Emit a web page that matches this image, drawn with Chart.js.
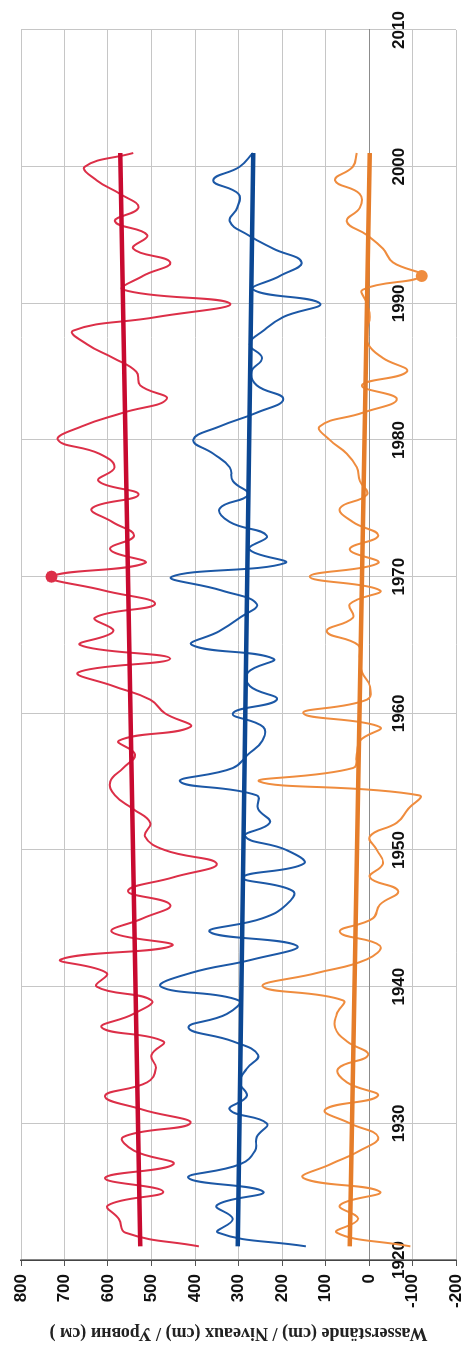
<!DOCTYPE html>
<html>
<head>
<meta charset="utf-8">
<script src="https://cdn.jsdelivr.net/npm/chart.js@4"></script>
<style>
html, body { margin: 0; padding: 0; background: #fff; overflow: hidden; }
/* chart is drawn landscape, then turned a quarter left like the print */
#wrap { position: absolute; left: 0; top: 0; width: 1346px; height: 469px;
        transform-origin: 0 0; transform: translateY(1346px) rotate(-90deg); }
</style>
</head>
<body>
<div id="wrap"><canvas id="levels" width="1346" height="469"></canvas></div>
<script>
const years = [
  1921, 1922, 1923, 1924, 1925, 1926, 1927, 1928, 1929, 1930,
  1931, 1932, 1933, 1934, 1935, 1936, 1937, 1938, 1939, 1940,
  1941, 1942, 1943, 1944, 1945, 1946, 1947, 1948, 1949, 1950,
  1951, 1952, 1953, 1954, 1955, 1956, 1957, 1958, 1959, 1960,
  1961, 1962, 1963, 1964, 1965, 1966, 1967, 1968, 1969, 1970,
  1971, 1972, 1973, 1974, 1975, 1976, 1977, 1978, 1979, 1980,
  1981, 1982, 1983, 1984, 1985, 1986, 1987, 1988, 1989, 1990,
  1991, 1992, 1993, 1994, 1995, 1996, 1997, 1998, 1999, 2000,
  2001
];
const redLevels = [
  391, 560, 575, 600, 473, 607, 450, 540, 565, 411,
  520, 607, 510, 490, 500, 473, 614, 542, 500, 626,
  603, 708, 453, 591, 520, 457, 554, 450, 350, 470,
  515, 503, 542, 584, 595, 565, 538, 575, 411, 469,
  503, 588, 668, 457, 664, 588, 630, 492, 611, 730,
  515, 595, 540, 590, 637, 530, 622, 585, 620, 715,
  660, 565, 465, 526, 535, 588, 648, 680, 488, 320,
  565, 520, 457, 542, 510, 584, 530, 572, 626, 653,
  542
];
const blueLevels = [
  145, 347, 313, 350, 243, 415, 297, 262, 258, 235,
  320, 281, 297, 281, 255, 313, 415, 327, 300, 478,
  410, 266, 166, 366, 245, 190, 175, 290, 150, 190,
  285, 228, 255, 258, 434, 313, 278, 245, 243, 313,
  212, 274, 278, 220, 407, 345, 297, 258, 340, 453,
  193, 275, 235, 320, 343, 278, 313, 320, 358, 404,
  343, 258, 197, 258, 270, 246, 274, 243, 197, 113,
  266, 205, 155, 220, 278, 320, 303, 300, 358, 297,
  267
];
const orangeLevels = [
  -95, 74, 25, 67, -25, 151, 89, 21, -21, 44,
  101, -20, 51, 71, 2, 51, 78, 74, 60, 244,
  120, 5, -25, 67, -9, -25, -67, -2, -32, -18,
  -2, -64, -90, -115, 251, 37, 28, 21, -25, 151,
  5, -2, 16, 21, 25, 97, 37, 44, -25, 136,
  -21, 44, -21, 37, 67, 5, 21, 28, 51, 90,
  113, 14, -64, 16, -87, -32, 2, 5, -2, 5,
  14, -121, -55, -32, 5, 51, 21, 21, 78, 37,
  28
];
// straight trend lines, first and last year
const trendYears = [1921, 2001];
const redTrend = [526, 572];
const blueTrend = [302, 266];
const orangeTrend = [44, -2];

const axisTitle = "Wasserstände (cm) / Niveaux (cm) / Уровни (см )";

function series(xs, ys) {
  return ys.map((v, i) => ({ x: xs[i], y: v }));
}

const maxRed = redLevels.indexOf(Math.max(...redLevels));
const minOrange = orangeLevels.indexOf(Math.min(...orangeLevels));

function lineSet(values, color, markIndex) {
  return {
    data: series(years, values),
    borderColor: color,
    backgroundColor: color,
    borderWidth: 2,
    tension: 0.45,
    pointRadius: ctx => (ctx.dataIndex === markIndex ? 6 : 0),
    pointBackgroundColor: color,
    pointBorderWidth: 0,
    order: 2
  };
}
function trendSet(values, color) {
  return {
    data: series(trendYears, values),
    borderColor: color,
    borderWidth: 4.5,
    pointRadius: 0,
    tension: 0,
    order: 1
  };
}

// keep label overhang from shrinking the plot box
function noOverhang(s) {
  s.paddingLeft = 0;
  s.paddingRight = 0;
  s.paddingTop = 0;
  s.paddingBottom = 0;
}

const tickFont = { family: '"Liberation Sans Narrow", "Liberation Sans", sans-serif', size: 17, weight: 'bold' };

new Chart(document.getElementById("levels"), {
  type: "line",
  data: {
    datasets: [
      lineSet(redLevels, "#dc2f48", maxRed),
      lineSet(blueLevels, "#1c58a6", -1),
      lineSet(orangeLevels, "#ef8c3e", minOrange),
      trendSet(redTrend, "#c80a30"),
      trendSet(blueTrend, "#0b4793"),
      trendSet(orangeTrend, "#e57d2a")
    ]
  },
  options: {
    responsive: false,
    animation: false,
    devicePixelRatio: 1,
    layout: { padding: { left: 0, right: 30, top: 21, bottom: 13 } },
    plugins: { legend: { display: false }, tooltip: { enabled: false } },
    scales: {
      x: {
        type: "linear",
        min: 1920,
        max: 2010,
        position: { y: 0 },
        ticks: { stepSize: 10, autoSkip: false, padding: 20, color: "#111", font: tickFont,
                 callback: v => String(v) },
        grid: { color: "#c6c6c6", drawTicks: false },
        border: { color: "#8c8c8c" },
        afterFit: noOverhang
      },
      y: {
        min: -200,
        max: 800,
        ticks: { stepSize: 100, padding: 8, color: "#111", font: tickFont },
        grid: { color: "#c6c6c6", tickLength: 6, tickColor: "#555" },
        border: { color: "#444", width: 1.5 },
        title: {
          display: true,
          text: axisTitle,
          color: "#222",
          font: { family: '"Liberation Serif", serif', size: 18, weight: 'bold' },
          padding: { top: 3, bottom: 0 }
        },
        afterFit: s => { s.width = 86; noOverhang(s); }
      }
    }
  }
});
</script>
</body>
</html>
